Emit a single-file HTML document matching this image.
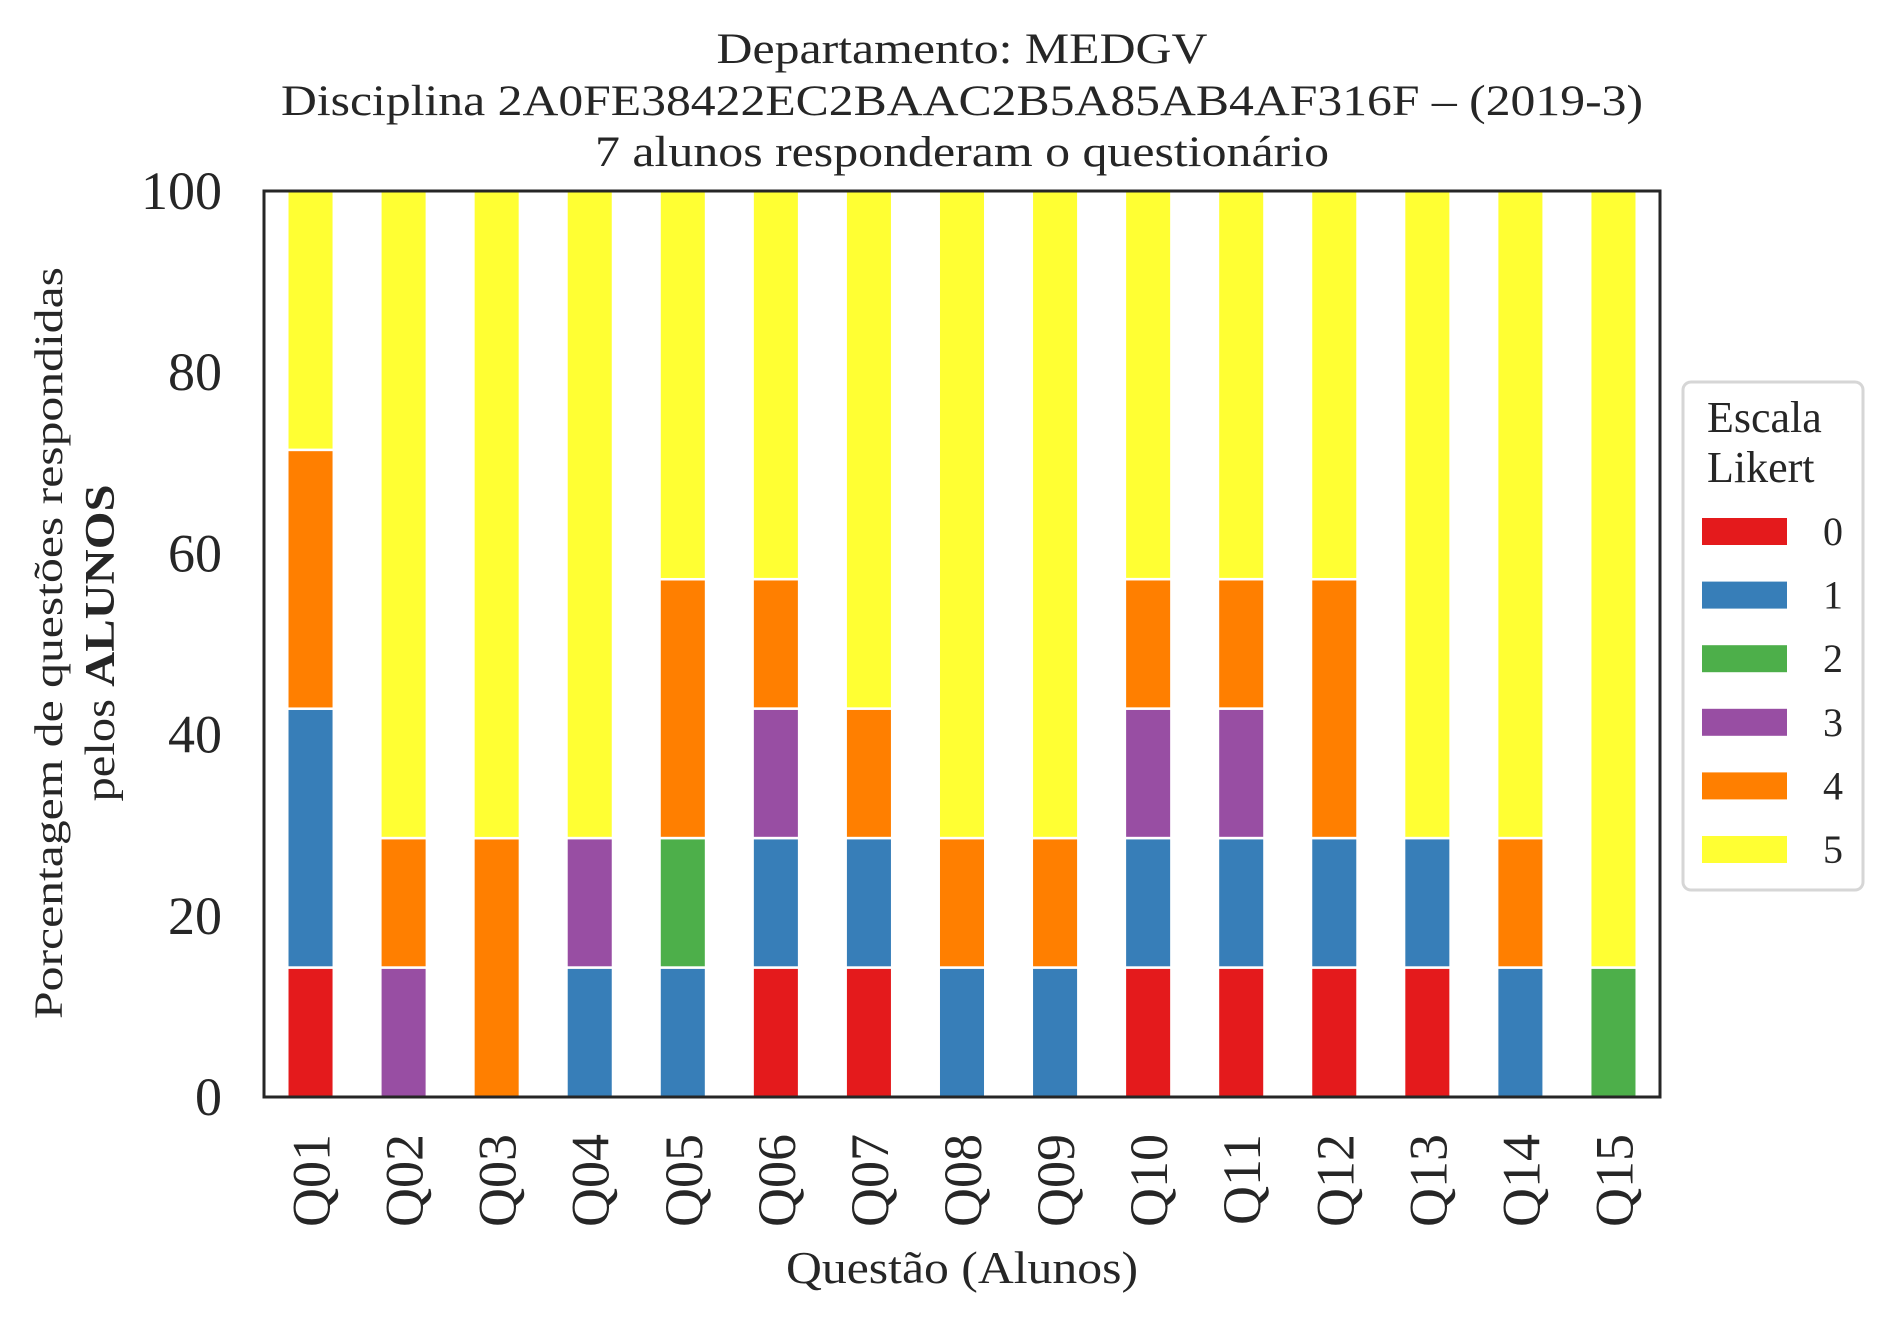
<!DOCTYPE html>
<html><head><meta charset="utf-8"><style>
html,body{margin:0;padding:0;background:#fff;}
svg text{font-family:"Liberation Serif",serif;fill:#262626;}
</style></head><body>
<svg id="chart" width="1892" height="1323" viewBox="0 0 1892 1323" xmlns="http://www.w3.org/2000/svg">
<g>
<text x="962" y="63" font-size="43" text-anchor="middle" textLength="491" lengthAdjust="spacingAndGlyphs">Departamento: MEDGV</text>
<text x="962" y="115" font-size="43" text-anchor="middle" textLength="1362" lengthAdjust="spacingAndGlyphs">Disciplina 2A0FE38422EC2BAAC2B5A85AB4AF316F – (2019-3)</text>
<text x="962" y="166" font-size="43" text-anchor="middle" textLength="734" lengthAdjust="spacingAndGlyphs">7 alunos responderam o questionário</text>
</g>
<g id="bars"></g>
<g id="yticks"></g>
<g id="xticks"></g>
<rect x="264" y="191" width="1396" height="906" fill="none" stroke="#262626" stroke-width="3"/>
<g>
<text transform="translate(62,643) rotate(-90)" font-size="40" text-anchor="middle" textLength="752" lengthAdjust="spacingAndGlyphs">Porcentagem de questões respondidas</text>
<text transform="translate(114,643) rotate(-90)" font-size="42" text-anchor="middle" textLength="317" lengthAdjust="spacingAndGlyphs">pelos <tspan font-weight="bold">ALUNOS</tspan></text>
</g>
<text x="962" y="1283" font-size="46" text-anchor="middle" textLength="352" lengthAdjust="spacingAndGlyphs">Questão (Alunos)</text>
<g id="legend">
<rect x="1683" y="382" width="180" height="508" rx="8" fill="#fff" stroke="#d6d6d6" stroke-width="3"/>
<text x="1707" y="432" font-size="44">Escala</text>
<text x="1707" y="482" font-size="44">Likert</text>
</g>
</svg>
<script>
const categories=["Q01","Q02","Q03","Q04","Q05","Q06","Q07","Q08","Q09","Q10","Q11","Q12","Q13","Q14","Q15"];
const seriesNames=["0","1","2","3","4","5"];
const s0=[14.29,0,0,0,0,14.29,14.29,0,0,14.29,14.29,14.29,14.29,0,0];
const s1=[28.57,0,0,14.29,14.29,14.29,14.29,14.29,14.29,14.29,14.29,14.29,14.29,14.29,0];
const s2=[0,0,0,0,14.29,0,0,0,0,0,0,0,0,0,14.29];
const s3=[0,14.29,0,14.29,0,14.29,0,0,0,14.29,14.29,0,0,0,0];
const s4=[28.57,14.29,28.57,0,28.57,14.29,14.29,14.29,14.29,14.29,14.29,28.57,0,14.29,0];
const s5=[28.57,71.43,71.43,71.43,42.86,42.86,57.14,71.43,71.43,42.86,42.86,42.86,71.43,71.43,85.71];
const yTicks=[0,20,40,60,80,100];
const colors=["#e41a1c","#377eb8","#4daf4a","#984ea3","#ff7f00","#ffff33"];
const series=[s0,s1,s2,s3,s4,s5];
const NS="http://www.w3.org/2000/svg";
const L=264,R=1660,T=191,B=1097;
const band=(R-L)/categories.length;
const xc=i=>L+band*(i+0.5);
const y=v=>B-(v/100)*(B-T);
const bars=document.getElementById('bars');
categories.forEach((c,i)=>{
  let acc=0;
  series.forEach((s,k)=>{
    const v=s[i]; if(!v){return;}
    const r=document.createElementNS(NS,'rect');
    r.setAttribute('x',xc(i)-band*0.25);
    r.setAttribute('width',band*0.5);
    r.setAttribute('y',y(acc+v));
    r.setAttribute('height',y(acc)-y(acc+v));
    r.setAttribute('fill',colors[k]);
    r.setAttribute('stroke','#fff');
    r.setAttribute('stroke-width','2.5');
    
    
    bars.appendChild(r);
    acc+=v;
  });
});
const yt=document.getElementById('yticks');
yTicks.forEach(t=>{
  const tx=document.createElementNS(NS,'text');
  tx.setAttribute('x',222);tx.setAttribute('y',y(t)+18);
  tx.setAttribute('font-size','54');tx.setAttribute('text-anchor','end');
  tx.textContent=t;
  
  
  yt.appendChild(tx);
});
const xt=document.getElementById('xticks');
categories.forEach((c,i)=>{
  const tx=document.createElementNS(NS,'text');
  tx.setAttribute('transform','translate('+(xc(i)+19)+',1134) rotate(-90)');
  tx.setAttribute('font-size','54');tx.setAttribute('text-anchor','end');
  tx.textContent=c;
  
  
  xt.appendChild(tx);
});
const lg=document.getElementById('legend');
seriesNames.forEach((n,k)=>{
  const yy=518+k*63.6;
  const r=document.createElementNS(NS,'rect');
  r.setAttribute('x',1702);r.setAttribute('y',yy);r.setAttribute('width',85);r.setAttribute('height',27);
  r.setAttribute('fill',colors[k]);
  
  
  lg.appendChild(r);
  const tx=document.createElementNS(NS,'text');
  tx.setAttribute('x',1833);tx.setAttribute('y',yy+27);tx.setAttribute('font-size','40');tx.setAttribute('text-anchor','middle');
  tx.textContent=n;
  
  
  lg.appendChild(tx);
});
</script>
</body></html>
